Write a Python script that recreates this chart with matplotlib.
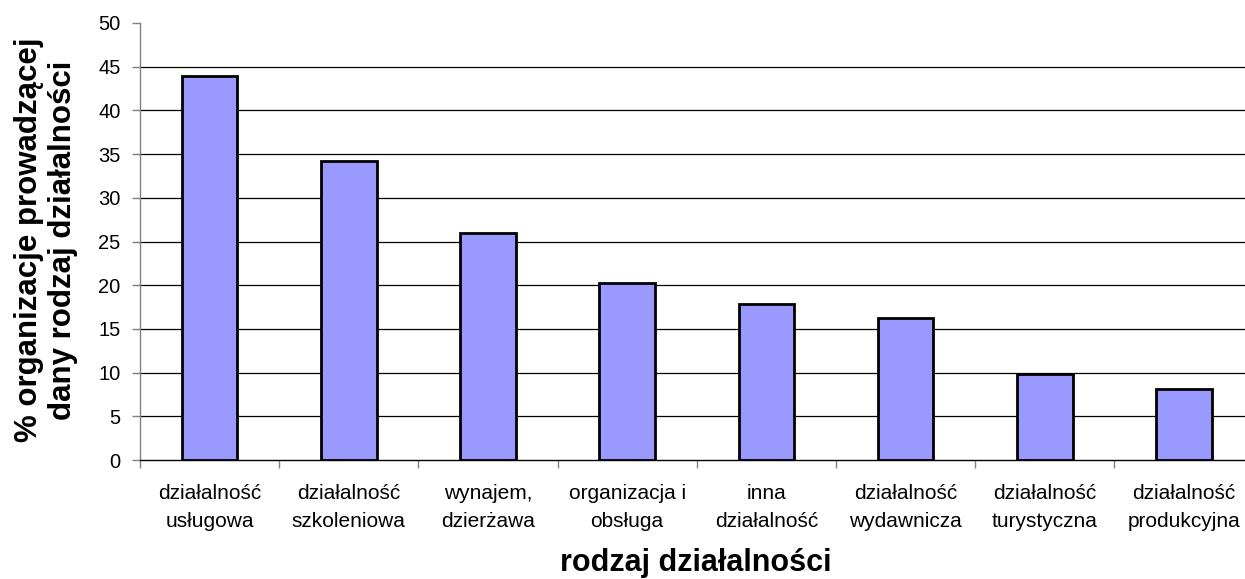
import matplotlib
matplotlib.use("Agg")
import matplotlib.pyplot as plt
import numpy as np

categories = ["działalność\nusługowa", "działalność\nszkoleniowa", "wynajem,\ndzierżawa",
              "organizacja i\nobsługa", "inna\ndziałalność", "działalność\nwydawnicza",
              "działalność\nturystyczna", "działalność\nprodukcyjna"]
values = [43.9, 34.2, 26.0, 20.3, 17.9, 16.2, 9.8, 8.1]
yticks = [0, 5, 10, 15, 20, 25, 30, 35, 40, 45, 50]

plt.rcParams['font.family'] = ['Liberation Sans', 'DejaVu Sans']

fig = plt.figure(figsize=(12.45, 5.79), dpi=100)
W, H = 1245, 579
left, right, top, bottom = 140, 1253.5, 23, 460
ax = fig.add_axes([left / W, 1 - bottom / H, (right - left) / W, (bottom - top) / H])

x = np.arange(len(categories))
ax.bar(x, values, width=0.4, color="#9999FF", edgecolor="black", linewidth=2, zorder=3)
ax.set_xlim(-0.5, len(categories) - 0.5)
ax.set_ylim(0, 50)
ax.set_yticks(yticks)
ax.set_yticklabels([str(v) for v in yticks], fontsize=14.5)
for v in yticks[1:-1]:
    ax.axhline(v, color="black", linewidth=0.9, zorder=1)

ax.set_xticks(x)
ax.set_xticklabels(categories, fontsize=15, linespacing=1.6)
ax.set_xticks(np.arange(len(categories) + 1) - 0.5, minor=True)
ax.tick_params(axis="x", which="major", length=0, pad=17)
ax.tick_params(axis="x", which="minor", length=6, color="#808080", width=1)
ax.tick_params(axis="y", length=6, color="#808080", width=1, pad=8)

for s in ["top", "right"]:
    ax.spines[s].set_visible(False)
ax.spines["left"].set_color("#808080")
ax.spines["left"].set_linewidth(1)
ax.spines["bottom"].set_color("black")
ax.spines["bottom"].set_linewidth(1)

fig.text(46 / W, 1 - 240 / H, "% organizacje prowadzącej\ndany rodzaj działalności",
         rotation=90, ha="center", va="center", fontsize=22.5, fontweight="bold", linespacing=1.15)
fig.text(696 / W, 1 - 571 / H, "rodzaj działalności", ha="center", va="baseline",
         fontsize=22, fontweight="bold")

fig.savefig("out.png", dpi=100)
